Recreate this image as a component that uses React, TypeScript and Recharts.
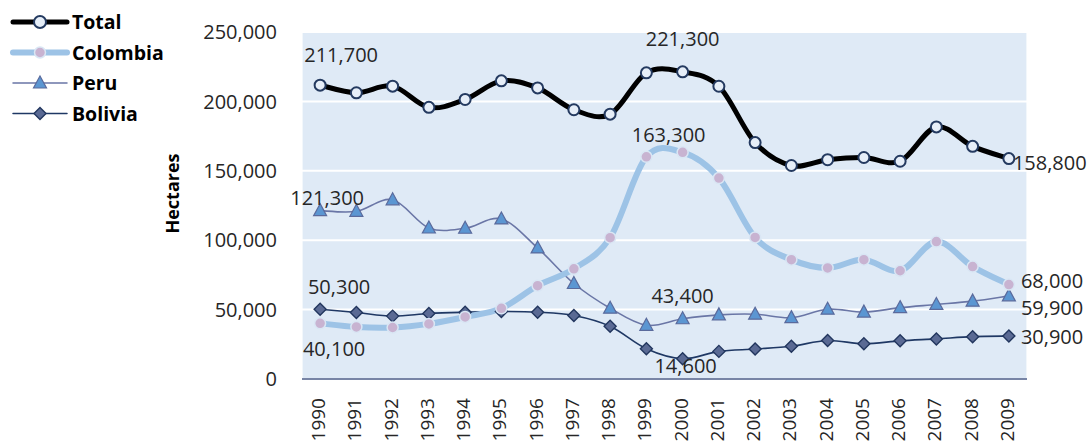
import {
  CartesianGrid,
  Legend,
  LabelList,
  Line,
  LineChart,
  XAxis,
  YAxis,
} from "recharts";

const years = [1990, 1991, 1992, 1993, 1994, 1995, 1996, 1997, 1998, 1999, 2000, 2001, 2002, 2003, 2004, 2005, 2006, 2007, 2008, 2009];
const total = [211700, 206200, 211000, 195700, 201400, 214800, 209700, 194000, 190800, 220600, 221300, 210900, 170300, 153800, 158000, 159600, 156900, 181600, 167600, 158800];
const colombia = [40100, 37500, 37100, 39700, 44700, 50900, 67200, 79400, 101800, 160100, 163300, 144800, 102000, 86000, 80000, 86000, 78000, 99000, 81000, 68000];
const peru = [121300, 120800, 129100, 108800, 108600, 115300, 94400, 68800, 51000, 38700, 43400, 46200, 46700, 44200, 50300, 48200, 51400, 53700, 56100, 59900];
const bolivia = [50300, 47900, 45300, 47200, 48100, 48600, 48100, 45800, 38000, 21800, 14600, 19900, 21600, 23600, 27700, 25400, 27500, 28900, 30500, 30900];
const seriesNames = ["Total", "Colombia", "Peru", "Bolivia"];
const yTicks = [0, 50000, 100000, 150000, 200000, 250000];

const data = years.map((year, i) => ({
  year,
  total: total[i],
  colombia: colombia[i],
  peru: peru[i],
  bolivia: bolivia[i],
}));

// category boundaries for the tick marks / vertical grid
const bounds = [...years.map((y) => y - 0.5), years[years.length - 1] + 0.5];

const FONT = "'Open Sans', 'Noto Sans', sans-serif";
const TEXT = "#262626";
const fmt = (v: number) => v.toLocaleString("en-US");

// Excel-like smoothed line (catmull-rom through the points)
function smoothCurve(context: any) {
  let pts: number[][] = [];
  return {
    areaStart() {},
    areaEnd() {},
    lineStart() {
      pts = [];
    },
    point(x: number, y: number) {
      pts.push([+x, +y]);
    },
    lineEnd() {
      const n = pts.length;
      if (!n) return;
      context.moveTo(pts[0][0], pts[0][1]);
      const k = 1 / 6;
      for (let i = 0; i < n - 1; i++) {
        const p0 = pts[Math.max(i - 1, 0)];
        const p1 = pts[i];
        const p2 = pts[i + 1];
        const p3 = pts[Math.min(i + 2, n - 1)];
        context.bezierCurveTo(
          p1[0] + (p2[0] - p0[0]) * k,
          p1[1] + (p2[1] - p0[1]) * k,
          p2[0] - (p3[0] - p1[0]) * k,
          p2[1] - (p3[1] - p1[1]) * k,
          p2[0],
          p2[1]
        );
      }
    },
  };
}

type Spot = [number, number, "start" | "middle" | "end"];
// label placement per series: index -> [dx, dy, anchor]
const spots: Record<string, Record<number, Spot>> = {
  total: { 0: [21, -30, "middle"], 10: [0, -33, "middle"], 19: [4, 4, "start"] },
  colombia: { 0: [14, 26, "middle"], 10: [-14, -17, "middle"], 19: [12, -4, "start"] },
  peru: { 0: [7, -13, "middle"], 10: [0, -23, "middle"], 19: [12, 12, "start"] },
  bolivia: { 0: [19, -22, "middle"], 10: [3, 7, "middle"], 19: [12, 1, "start"] },
};

function labelFor(key: string) {
  return (props: any) => {
    const s = spots[key][props.index];
    if (!s) return null;
    const x = props.x ?? props.viewBox?.x;
    const y = props.y ?? props.viewBox?.y;
    return (
      <text
        key={`${key}-${props.index}`}
        x={x + s[0]}
        y={y + s[1]}
        dy="0.35em"
        textAnchor={s[2]}
        fontSize={20}
        fontFamily={FONT}
        fill={TEXT}
      >
        {fmt(props.value)}
      </text>
    );
  };
}

const TotalDot = (p: any) => (
  <circle key={p.index} cx={p.cx} cy={p.cy} r={5.5} fill="#e6eef8" stroke="#243a60" strokeWidth={2} />
);
const ColombiaDot = (p: any) => (
  <circle key={p.index} cx={p.cx} cy={p.cy} r={5.5} fill="#c8b3d1" stroke="#d9e6f4" strokeWidth={1.5} />
);
const PeruDot = (p: any) => (
  <path
    key={p.index}
    d={`M${p.cx},${p.cy - 7}L${p.cx + 6.5},${p.cy + 5}L${p.cx - 6.5},${p.cy + 5}Z`}
    fill="#5b96d2"
    stroke="#5a6a9c"
    strokeWidth={1.2}
  />
);
const BoliviaDot = (p: any) => (
  <path
    key={p.index}
    d={`M${p.cx},${p.cy - 6}L${p.cx + 6},${p.cy}L${p.cx},${p.cy + 6}L${p.cx - 6},${p.cy}Z`}
    fill="#5a6a94"
    stroke="#22365e"
    strokeWidth={1.4}
  />
);

const YearTick = ({ x, y, payload }: any) => (
  <text
    x={x + 5}
    y={y + 10}
    transform={`rotate(-90 ${x + 5} ${y + 10})`}
    textAnchor="end"
    fontSize={19}
    fontFamily={FONT}
    fill={TEXT}
  >
    {payload.value}
  </text>
);

const legendStyles = [
  { stroke: "#000", width: 5, marker: "circle", fill: "#e6eef8", mstroke: "#243a60" },
  { stroke: "#9dc3e6", width: 6, marker: "circle", fill: "#c8b3d1", mstroke: "#d9e6f4" },
  { stroke: "#6a76a6", width: 1.5, marker: "tri", fill: "#5b96d2", mstroke: "#5a6a9c" },
  { stroke: "#1f3864", width: 1.5, marker: "dia", fill: "#5a6a94", mstroke: "#22365e" },
];

function LegendBox() {
  return (
    <svg width={200} height={130}>
      {seriesNames.map((name, i) => {
        const st = legendStyles[i];
        const cy = 22 + i * 30.5;
        const cx = 40;
        return (
          <g key={name}>
            <line x1={13} x2={67} y1={cy} y2={cy} stroke={st.stroke} strokeWidth={st.width} strokeLinecap="round" />
            {st.marker === "circle" && (
              <circle cx={cx} cy={cy} r={i === 0 ? 6 : 5.5} fill={st.fill} stroke={st.mstroke} strokeWidth={i === 0 ? 2 : 1.5} />
            )}
            {st.marker === "tri" && (
              <path d={`M${cx},${cy - 7}L${cx + 6.5},${cy + 5}L${cx - 6.5},${cy + 5}Z`} fill={st.fill} stroke={st.mstroke} strokeWidth={1.2} />
            )}
            {st.marker === "dia" && (
              <path d={`M${cx},${cy - 6}L${cx + 6},${cy}L${cx},${cy + 6}L${cx - 6},${cy}Z`} fill={st.fill} stroke={st.mstroke} strokeWidth={1.4} />
            )}
            <text x={72} y={cy} dy="0.36em" fontSize={19.5} fontWeight={700} fontFamily={FONT} fill="#000">
              {name}
            </text>
          </g>
        );
      })}
    </svg>
  );
}

export default function App() {
  return (
    <div style={{ position: "absolute", left: 0, top: 0, width: 1089, height: 441, background: "#fff" }}>
      <LineChart width={1089} height={441} data={data} margin={{ top: 32, right: 62, bottom: 0, left: 0 }}>
        <CartesianGrid vertical={false} stroke="#fff" strokeWidth={2} fill="#dfeaf6" fillOpacity={1} />
        <CartesianGrid horizontal={false} xAxisId="grid" stroke="#fff" strokeWidth={1.2} />
        <XAxis
          xAxisId="grid"
          dataKey="year"
          type="number"
          domain={[bounds[0], bounds[bounds.length - 1]]}
          ticks={bounds}
          interval={0}
          height={1}
          tick={false}
          tickSize={7}
          axisLine={{ stroke: "#4b5d88", strokeWidth: 1.5 }}
          tickLine={{ stroke: "#4b5d88", strokeWidth: 1.5 }}
          allowDataOverflow
        />
        <XAxis
          xAxisId="years"
          dataKey="year"
          type="number"
          domain={[bounds[0], bounds[bounds.length - 1]]}
          ticks={years}
          interval={0}
          height={61}
          tick={<YearTick />}
          tickLine={false}
          axisLine={false}
          allowDataOverflow
        />
        <YAxis
          width={302}
          domain={[0, 250000]}
          ticks={yTicks}
          interval={0}
          tickFormatter={fmt}
          tickMargin={19}
          tickLine={false}
          axisLine={false}
          tick={{ fill: TEXT, fontSize: 20, fontFamily: FONT }}
          label={{
            value: "Hectares",
            content: ({ viewBox }: any) => {
              const cx = viewBox.x + 173;
              const cy = viewBox.y + viewBox.height / 2 - 12;
              return (
                <text
                  x={cx}
                  y={cy}
                  transform={`rotate(-90 ${cx} ${cy})`}
                  textAnchor="middle"
                  dy="0.35em"
                  fontSize={18}
                  fontWeight={700}
                  fontFamily={FONT}
                  fill="#000"
                >
                  Hectares
                </text>
              );
            },
          }}
        />
        <Legend
          layout="vertical"
          align="center"
          verticalAlign="middle"
          wrapperStyle={{ position: "absolute", left: 0, top: 0, width: 200, height: 130 }}
          content={() => <LegendBox />}
        />
        <Line
          xAxisId="years"
          dataKey="bolivia"
          name={seriesNames[3]}
          type={smoothCurve as any}
          stroke="#1f3864"
          strokeWidth={1.6}
          dot={BoliviaDot}
          activeDot={false}
          isAnimationActive={false}
        >
          <LabelList dataKey="bolivia" content={labelFor("bolivia")} />
        </Line>
        <Line
          xAxisId="years"
          dataKey="peru"
          name={seriesNames[2]}
          type={smoothCurve as any}
          stroke="#6a76a6"
          strokeWidth={1.6}
          dot={PeruDot}
          activeDot={false}
          isAnimationActive={false}
        >
          <LabelList dataKey="peru" content={labelFor("peru")} />
        </Line>
        <Line
          xAxisId="years"
          dataKey="colombia"
          name={seriesNames[1]}
          type={smoothCurve as any}
          stroke="#9dc3e6"
          strokeWidth={6}
          dot={ColombiaDot}
          activeDot={false}
          isAnimationActive={false}
        >
          <LabelList dataKey="colombia" content={labelFor("colombia")} />
        </Line>
        <Line
          xAxisId="years"
          dataKey="total"
          name={seriesNames[0]}
          type={smoothCurve as any}
          stroke="#000"
          strokeWidth={5}
          dot={TotalDot}
          activeDot={false}
          isAnimationActive={false}
        >
          <LabelList dataKey="total" content={labelFor("total")} />
        </Line>
      </LineChart>
    </div>
  );
}
